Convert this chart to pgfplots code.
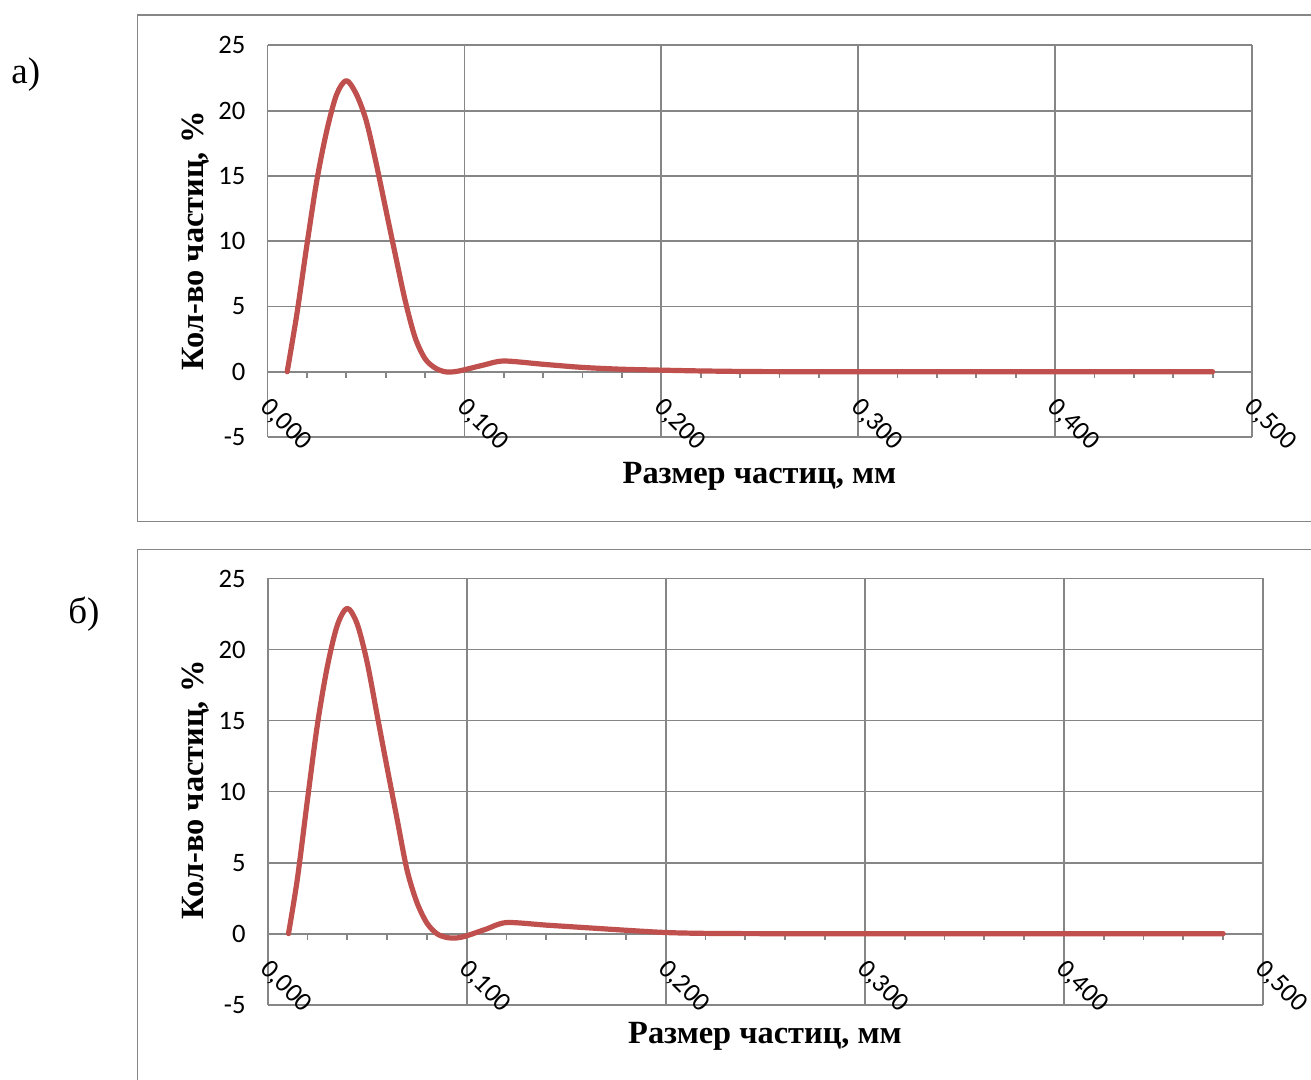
\documentclass[border=0pt]{standalone}
\usepackage{pgfplots}
\pgfplotsset{compat=1.18}
\usepackage{fontspec}
\setmainfont{Liberation Serif}
\newfontfamily\carlito{Carlito}
\definecolor{exred}{HTML}{C0504D}
\definecolor{grd}{HTML}{868686}

\pgfplotsset{
  excel/.style={
    scale only axis,
    xmin=0, xmax=0.5, ymin=-5, ymax=25,
    axis x line=middle, axis y line=left,
    axis line style={grd, line width=0.9pt, -},
    hide obscured x ticks=false, hide obscured y ticks=false,
    xtick={0,0.1,0.2,0.3,0.4,0.5},
    xticklabels={{0,000},{0,100},{0,200},{0,300},{0,400},{0,500}},
    ytick={-5,0,5,10,15,20,25},
    yticklabels={-5,0,5,10,15,20,25},
    minor x tick num=4,
    grid=major,
    major grid style={grd, line width=0.9pt},
    tick style={grd, line width=0.9pt},
    ytick style={draw=none},
    xtick align=outside,
    major tick length=3pt, minor tick length=3pt,
    ticklabel style={font=\carlito\fontsize{13.3}{14}\selectfont, text=black},
    xticklabel style={xshift=2pt, yshift=-9pt, rotate=-45, anchor=north west, inner sep=0pt},
    yticklabel style={xshift=-6pt},
  }
}

\begin{document}
\begin{tikzpicture}[x=0.5pt, y=0.5pt]
\useasboundingbox (0,0) rectangle (1311,1080);
\fill[white] (0,0) rectangle (1311,1080);
% outer frames
\draw[grd, line width=0.85pt] (137.5,1064.8) rectangle (1330,558.5);
\draw[grd, line width=0.85pt] (137.5,530.4) rectangle (1330,-20);

% panel a
\begin{axis}[excel, at={(133.75pt,321.5pt)}, anchor=south west,
  width=492.25pt, height=195.8pt]
\addplot[exred, line width=2.6pt, smooth, tension=0.5, line cap=round, line join=round] coordinates {
(0.010,0) (0.015,4.5) (0.020,9.7) (0.025,14.6) (0.030,18.4) (0.035,21.2)
(0.040,22.3) (0.045,21.3) (0.050,19.3) (0.055,16.1) (0.060,12.5) (0.065,8.9)
(0.070,5.4) (0.075,2.6) (0.080,1.0) (0.085,0.3) (0.090,0.0) (0.095,0.0)
(0.100,0.15) (0.110,0.52) (0.120,0.82)
(0.140,0.57) (0.160,0.33) (0.180,0.19) (0.200,0.12) (0.220,0.06)
(0.250,0.01) (0.300,0) (0.400,0) (0.480,0)
};
\end{axis}

% panel b
\begin{axis}[excel, at={(133.8pt,37.65pt)}, anchor=south west,
  width=497.7pt, height=213.1pt]
\addplot[exred, line width=2.6pt, smooth, tension=0.5, line cap=round, line join=round] coordinates {
(0.0105,0) (0.015,3.9) (0.020,9.4) (0.025,14.7) (0.030,18.8) (0.035,21.7)
(0.040,22.9) (0.045,21.8) (0.050,19.1) (0.055,15.4) (0.060,11.7) (0.065,8.1)
(0.070,4.5) (0.075,2.2) (0.080,0.75) (0.085,0.0) (0.090,-0.27) (0.095,-0.3)
(0.100,-0.15) (0.110,0.33) (0.120,0.78)
(0.140,0.6) (0.160,0.42) (0.180,0.24) (0.200,0.08) (0.220,0.02)
(0.250,0) (0.300,0) (0.400,0) (0.480,0)
};
\end{axis}

% labels
\node[anchor=base, font=\bfseries\fontsize{16.2}{18}\selectfont] at (759.5,596.7) {Размер частиц, мм};
\node[anchor=base, rotate=90, font=\bfseries\fontsize{16.2}{18}\selectfont] at (203,839) {Кол-во частиц, \%};
\node[anchor=base, font=\bfseries\fontsize{16.2}{18}\selectfont] at (765,36) {Размер частиц, мм};
\node[anchor=base, rotate=90, font=\bfseries\fontsize{16.2}{18}\selectfont] at (203,290) {Кол-во частиц, \%};
\node[anchor=base west, inner sep=0pt, font=\fontsize{18.5}{20}\selectfont] at (11,996.5) {а)};
\node[anchor=base west, inner sep=0pt, font=\fontsize{18.5}{20}\selectfont] at (68,456.7) {б)};
\end{tikzpicture}
\end{document}
